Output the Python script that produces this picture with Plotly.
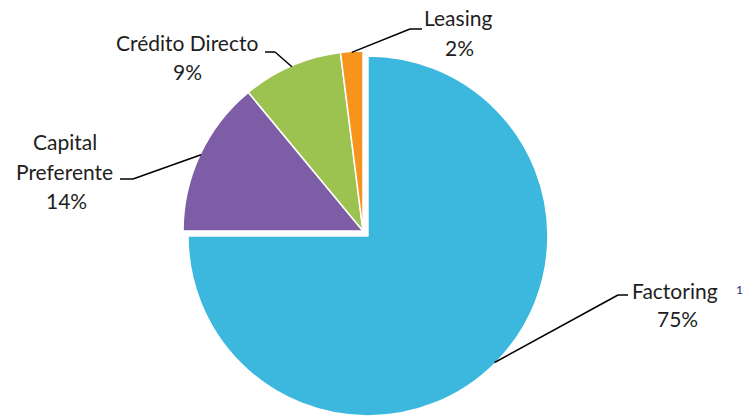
import math
import plotly.graph_objects as go

# ---- data ----
categories = ["Factoring", "Capital Preferente", "Crédito Directo", "Leasing"]
values = [75, 14, 9, 2]
pct_labels = ["75%", "14%", "9%", "2%"]

# ---- styles / layout constants ----
colors = ["#3CB7DD", "#7E5DA7", "#9CC24F", "#F7941D"]
pulls = [0.039, 0, 0, 0]
W, H = 745, 418
M_L, M_R, M_T, M_B = 0, 0, 44, 0
DOM_X = [0, 726 / 745]
FONT = "Lato"
FS = 21
TXT = "#1E1E1E"

plot_w = W - M_L - M_R
plot_h = H - M_T - M_B


def to_paper(px, py):
    return (px - M_L) / plot_w, 1 - (py - M_T) / plot_h


fig = go.Figure(
    go.Pie(
        labels=categories,
        values=values,
        sort=False,
        direction="clockwise",
        rotation=0,
        pull=pulls,
        textinfo="none",
        hoverinfo="label+percent",
        marker=dict(colors=colors, line=dict(color="#FFFFFF", width=1.5)),
        domain=dict(x=DOM_X, y=[0, 1]),
        showlegend=False,
    )
)

# pie geometry as plotly computes it
vpw = plot_w * (DOM_X[1] - DOM_X[0])
vph = plot_h
r = min(vpw, vph) / (2 + 2 * max(pulls))
cx = M_L + plot_w * (DOM_X[0] + DOM_X[1]) / 2
cy = M_T + plot_h / 2

total = sum(values)
cum = 0
edge_pts = []
for v, p in zip(values, pulls):
    mid = (cum + v / 2) / total * 360
    cum += v
    a = math.radians(mid)
    d = r * (1 + p) - 1
    edge_pts.append((cx + d * math.sin(a), cy - d * math.cos(a)))

# label placement (pixels): leader elbow points and text positions
leaders = [
    [(618, 295), (628, 295)],   # Factoring
    [(133, 179), (120, 179)],   # Capital Preferente
    [(275, 52), (265, 52)],     # Crédito Directo
    [(410, 29), (422, 29)],     # Leasing
]
texts = [
    [("Factoring", 675, 290), (pct_labels[0], 677, 318)],
    [("Capital", 65, 142), ("Preferente", 64, 171), (pct_labels[1], 66, 200)],
    [("Crédito Directo", 187, 43), (pct_labels[2], 187, 72)],
    [("Leasing", 458, 18), (pct_labels[3], 459, 47)],
]

shapes = []
for (sx, sy), pts in zip(edge_pts, leaders):
    seq = [(sx, sy)] + pts
    for (x0, y0), (x1, y1) in zip(seq[:-1], seq[1:]):
        px0, py0 = to_paper(x0, y0)
        px1, py1 = to_paper(x1, y1)
        shapes.append(dict(type="line", xref="paper", yref="paper",
                           x0=px0, y0=py0, x1=px1, y1=py1,
                           line=dict(color="#000000", width=1.5)))

annotations = []
for group in texts:
    for t, x, y in group:
        ax, ay = to_paper(x, y)
        annotations.append(dict(text=t, x=ax, y=ay, xref="paper", yref="paper",
                                showarrow=False, xanchor="center", yanchor="middle",
                                font=dict(family=FONT, size=FS, color=TXT)))

nx, ny = to_paper(739, 289)
annotations.append(dict(text="1", x=nx, y=ny, xref="paper", yref="paper",
                        showarrow=False, xanchor="center", yanchor="middle",
                        font=dict(family=FONT, size=12, color="#1F2A7A")))

fig.update_layout(
    width=W, height=H,
    margin=dict(l=M_L, r=M_R, t=M_T, b=M_B),
    paper_bgcolor="#FFFFFF",
    plot_bgcolor="#FFFFFF",
    shapes=shapes,
    annotations=annotations,
)

fig.write_html("out.html",
               config={"displayModeBar": False},
               post_script="document.body.style.margin='0';document.body.style.overflow='hidden';")
